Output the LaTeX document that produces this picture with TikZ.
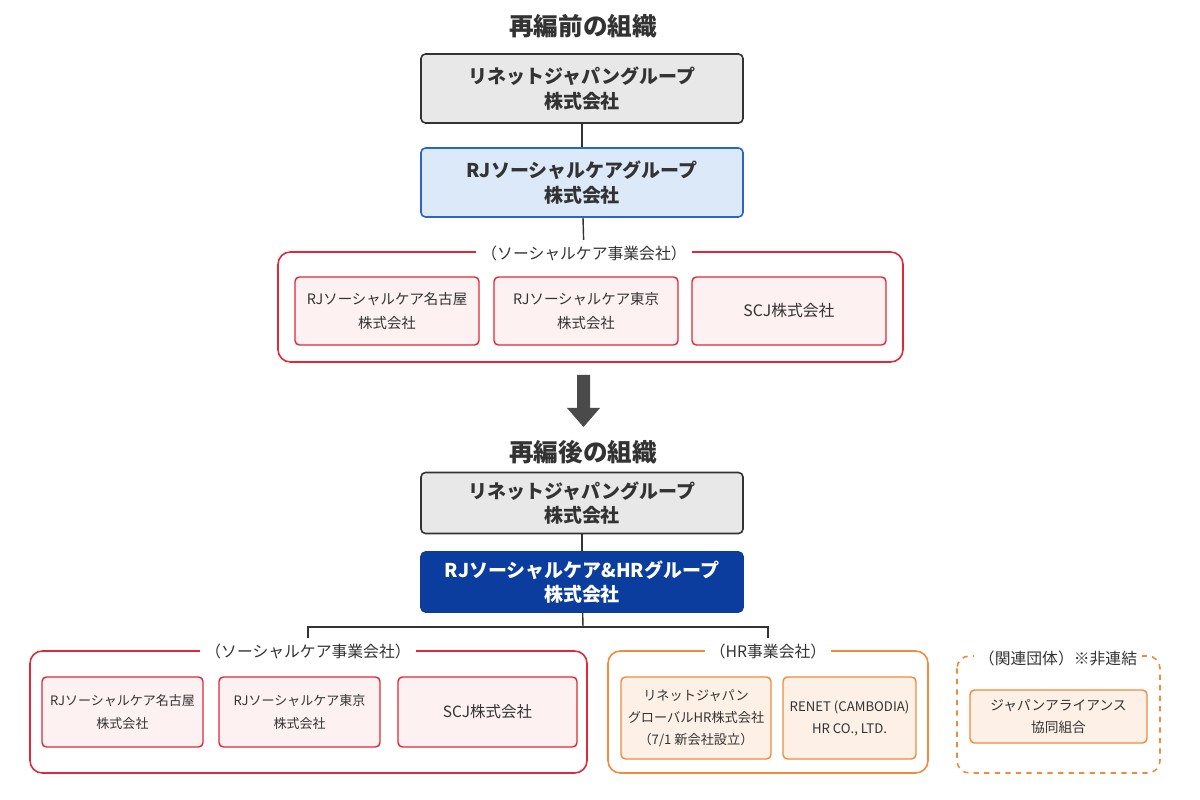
\documentclass[tikz,border=0pt]{standalone}
\usepackage{fontspec}
\setmainfont{Noto Sans CJK JP}
\definecolor{txtgray}{HTML}{333333}
\definecolor{boxgray}{HTML}{E8E8E8}
\definecolor{lineblue}{HTML}{2A66C8}
\definecolor{fillblue}{HTML}{DCE9F8}
\definecolor{darkblue}{HTML}{0B3D9E}
\definecolor{linered}{HTML}{E0283A}
\definecolor{fillred}{HTML}{FDF1F1}
\definecolor{lineorange}{HTML}{F08A3C}
\definecolor{fillorange}{HTML}{FDF0E6}
\definecolor{arrowgray}{HTML}{4A4A4A}
\tikzset{
  title/.style={text=txtgray, font=\fontsize{14}{17}\selectfont\bfseries},
  topbox/.style={draw=txtgray, fill=boxgray, line width=0.9pt, rounded corners=2.5pt,
    minimum width=6.44cm, inner sep=0pt, align=center, text=txtgray,
    font=\fontsize{10.8}{14}\selectfont\bfseries},
  subbox/.style={draw=linered, fill=fillred, line width=0.8pt, rounded corners=2.5pt,
    minimum height=1.36cm, inner sep=0pt, align=center, text=txtgray,
    font=\fontsize{8.2}{13.5}\selectfont},
  lowbox/.style={subbox, font=\fontsize{7.4}{13.5}\selectfont},
  hrbox/.style={subbox, draw=lineorange, fill=fillorange, font=\fontsize{7.5}{12.5}\selectfont},
  grouplabel/.style={fill=white, inner sep=3pt, text=txtgray, font=\fontsize{9}{10}\selectfont},
  frame/.style={line width=0.9pt, rounded corners=7pt}
}
\begin{document}
\begin{tikzpicture}[x=0.02cm, y=-0.02cm]
\useasboundingbox (0,0) rectangle (1200,800);

% before
\node[title] (ttl1) at (583,26) {再編前の組織};
\node[topbox, minimum height=1.38cm] (old1) at (582,88.5) {リネットジャパングループ\\株式会社};
\node[topbox, minimum height=1.38cm, draw=lineblue, fill=fillblue] (old2) at (582,182.5) {RJソーシャルケアグループ\\株式会社};
\draw[frame, linered] (278,252) rectangle (903,362);
\node[grouplabel] (glab1) at (584,253) {（ソーシャルケア事業会社）};
\node[subbox, minimum width=3.68cm] (oldA) at (387,311) {RJソーシャルケア名古屋\\株式会社};
\node[subbox, minimum width=3.68cm] (oldB) at (586,311) {RJソーシャルケア東京\\株式会社};
\node[subbox, minimum width=3.88cm, font=\fontsize{9}{13.5}\selectfont] (oldC) at (789,311) {SCJ株式会社};
\draw[txtgray, line width=0.8pt] (old1) -- (old2);
\draw[txtgray, line width=0.8pt] (old2) -- (glab1);

% arrow
\fill[arrowgray] (577,375) -- (590,375) -- (590,408) -- (600,408) -- (583.5,427) -- (567,408) -- (577,408) -- cycle;

% after
\node[title] (ttl2) at (583,452) {再編後の組織};
\node[topbox, minimum height=1.22cm] (new1) at (582,503) {リネットジャパングループ\\株式会社};
\node[topbox, minimum height=1.2cm, draw=darkblue, fill=darkblue, text=white] (new2) at (582,582) {RJソーシャルケア\&HRグループ\\株式会社};
\coordinate (fork) at (583,627);
\draw[txtgray, line width=0.8pt] (new1) -- (new2);
\draw[txtgray, line width=0.8pt] (new2) -- (fork);

\draw[frame, linered] (30,651) rectangle (587,773);
\node[grouplabel] (glab2) at (308,651) {（ソーシャルケア事業会社）};
\node[lowbox, minimum width=3.22cm, minimum height=1.4cm] (newA) at (122.5,712) {RJソーシャルケア名古屋\\株式会社};
\node[lowbox, minimum width=3.22cm, minimum height=1.4cm] (newB) at (299.5,712) {RJソーシャルケア東京\\株式会社};
\node[lowbox, minimum width=3.58cm, minimum height=1.4cm, font=\fontsize{8.8}{13.5}\selectfont] (newC) at (487.5,712) {SCJ株式会社};

\draw[frame, lineorange] (608,651) rectangle (928,773);
\node[grouplabel] (glab3) at (768,651) {（HR事業会社）};
\node[hrbox, minimum width=3.0cm, minimum height=1.64cm] (hrA) at (696,718) {リネットジャパン\\グローバルHR株式会社\\（7/1 新会社設立）};
\node[hrbox, minimum width=2.66cm, minimum height=1.64cm] (hrB) at (849.5,718) {RENET (CAMBODIA)\\HR CO., LTD.};

\draw[frame, lineorange, dashed] (957,656) rectangle (1160,773);
\node[grouplabel] (glab4) at (1058,658) {（関連団体）※非連結};
\node[hrbox, minimum width=3.54cm, minimum height=1.06cm, font=\fontsize{7.8}{12.5}\selectfont] (ally) at (1058.5,716.5) {ジャパンアライアンス\\協同組合};

\draw[txtgray, line width=0.8pt] (glab2.north) -- (glab2.north |- fork) -- (glab3.north |- fork) -- (glab3.north);

\end{tikzpicture}
\end{document}
